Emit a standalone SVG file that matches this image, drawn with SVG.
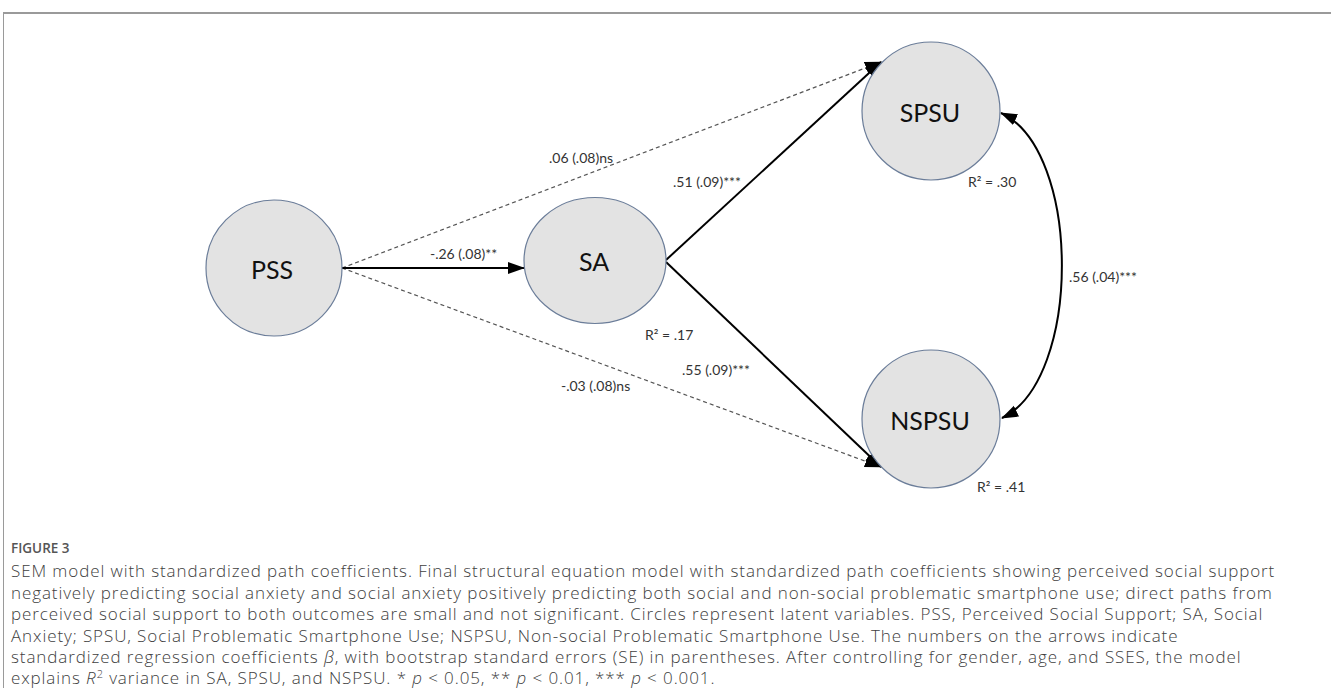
<svg xmlns="http://www.w3.org/2000/svg" width="1331" height="688" viewBox="0 0 1331 688">
  <style>
    .node { fill: #e3e3e3; stroke: #6b7d99; stroke-width: 1.2; }
    .nlabel { font-family: Lato, "Open Sans", sans-serif; font-size: 25px; fill: #111; text-anchor: middle; dominant-baseline: central; }
    .lbl { font-family: Lato, "Open Sans", sans-serif; font-size: 14px; fill: #333; }
    .solid { stroke: #000; stroke-width: 2; fill: none; }
    .dash { stroke: #555; stroke-width: 1.2; stroke-dasharray: 4 3; fill: none; }
    .cap { font-family: "Open Sans", Lato, sans-serif; font-size: 17px; font-weight: 300; letter-spacing: 0.9px; fill: #404040; }
    .fig { font-family: "Open Sans", Lato, sans-serif; font-size: 13.5px; font-weight: 600; fill: #555; }
  </style>
  <defs>
    <marker id="ah" markerUnits="userSpaceOnUse" markerWidth="18" markerHeight="14" viewBox="0 0 18 14" refX="16" refY="7" orient="auto-start-reverse">
      <path d="M0,1 L17,7 L0,13 z" fill="#000" stroke="none"/>
    </marker>
  </defs>
  <rect width="1331" height="688" fill="#fff"/>
  <g id="frame">
    <line x1="3" y1="13" x2="1331" y2="13" stroke="#9a9a9a" stroke-width="2"/>
    <line x1="3.5" y1="13" x2="3.5" y2="688" stroke="#9a9a9a" stroke-width="1"/>
  </g>
  <g id="connectors">
    <line class="dash" x1="342" y1="268" x2="881" y2="62" marker-end="url(#ah)"/>
    <line class="dash" x1="342" y1="268" x2="881" y2="467" marker-end="url(#ah)"/>
    <line class="solid" x1="342" y1="268" x2="524" y2="268" marker-end="url(#ah)"/>
    <line class="solid" x1="666" y1="260" x2="881" y2="62" marker-end="url(#ah)"/>
    <line class="solid" x1="666" y1="262" x2="881" y2="467" marker-end="url(#ah)"/>
    <path class="solid" d="M1001,113 C1082,150 1082,380 1002,418" marker-start="url(#ah)" marker-end="url(#ah)"/>
    <text class="lbl" x="549" y="163">.06 (.08)ns</text>
    <text class="lbl" x="673" y="187">.51 (.09)***</text>
    <text class="lbl" x="430" y="259">-.26 (.08)**</text>
    <text class="lbl" x="682" y="375">.55 (.09)***</text>
    <text class="lbl" x="561" y="391">-.03 (.08)ns</text>
    <text class="lbl" x="1069" y="282">.56 (.04)***</text>
  </g>
  <g id="PSS">
    <circle class="node" cx="274" cy="268" r="68"/>
    <text class="nlabel" x="272" y="269">PSS</text>
  </g>
  <g id="SA">
    <ellipse class="node" cx="595" cy="260.5" rx="71" ry="63"/>
    <text class="nlabel" x="594" y="261">SA</text>
    <text class="lbl" x="645" y="340">R² = .17</text>
  </g>
  <g id="SPSU">
    <circle class="node" cx="931" cy="111" r="69"/>
    <text class="nlabel" x="930" y="112">SPSU</text>
    <text class="lbl" x="968" y="187">R² = .30</text>
  </g>
  <g id="NSPSU">
    <circle class="node" cx="931" cy="419" r="69"/>
    <text class="nlabel" x="930" y="420">NSPSU</text>
    <text class="lbl" x="977" y="492">R² = .41</text>
  </g>
  <g id="caption">
    <text class="fig" x="11" y="553">FIGURE 3</text>
    <text class="cap" x="11" y="577">SEM model with standardized path coefficients. Final structural equation model with standardized path coefficients showing perceived social support</text>
    <text class="cap" x="11" y="598.5">negatively predicting social anxiety and social anxiety positively predicting both social and non-social problematic smartphone use; direct paths from</text>
    <text class="cap" x="11" y="620">perceived social support to both outcomes are small and not significant. Circles represent latent variables. PSS, Perceived Social Support; SA, Social</text>
    <text class="cap" x="11" y="641.5">Anxiety; SPSU, Social Problematic Smartphone Use; NSPSU, Non-social Problematic Smartphone Use. The numbers on the arrows indicate</text>
    <text class="cap" x="11" y="663">standardized regression coefficients <tspan font-style="italic">β</tspan>, with bootstrap standard errors (SE) in parentheses. After controlling for gender, age, and SSES, the model</text>
    <text class="cap" x="11" y="684">explains <tspan font-style="italic">R</tspan><tspan font-size="11" dy="-6">2</tspan><tspan dy="6"> variance in SA, SPSU, and NSPSU. * </tspan><tspan font-style="italic">p</tspan> &lt; 0.05, ** <tspan font-style="italic">p</tspan> &lt; 0.01, *** <tspan font-style="italic">p</tspan> &lt; 0.001.</text>
  </g>
</svg>
